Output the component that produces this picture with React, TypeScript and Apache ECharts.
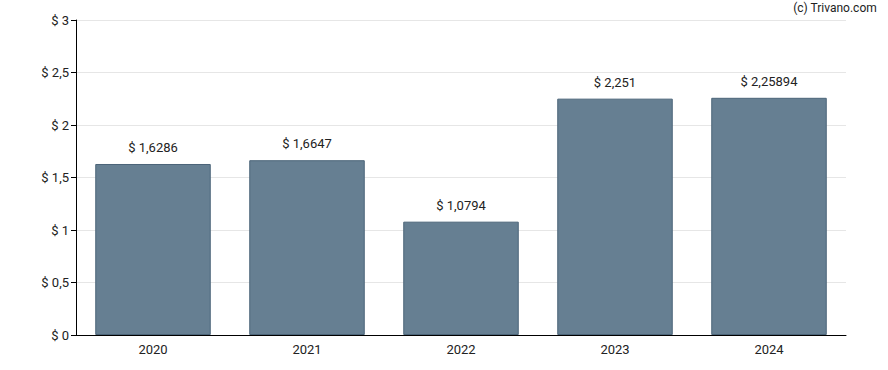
import React, { useEffect, useRef } from "react";
import * as echarts from "echarts";

const categories = ["2020", "2021", "2022", "2023", "2024"];
const values = [1.6286, 1.6647, 1.0794, 2.251, 2.25894];
const labels = ["$ 1,6286", "$ 1,6647", "$ 1,0794", "$ 2,251", "$ 2,25894"];

export default function App() {
  const ref = useRef<HTMLDivElement>(null);
  useEffect(() => {
    const chart = echarts.init(ref.current!, undefined, { renderer: "svg" });
    chart.setOption({
      animation: false,
      textStyle: { fontFamily: "Roboto" },
      grid: { left: 76, right: 42, top: 20, bottom: 35 },
      graphic: [
        {
          type: "text",
          right: 11,
          top: 2,
          style: { text: "(c) Trivano.com", font: "12px Roboto", fill: "#222" },
        },
      ],
      xAxis: {
        type: "category",
        data: categories,
        axisLine: { lineStyle: { color: "#000" } },
        axisTick: { alignWithLabel: true, length: 5, lineStyle: { color: "#000" } },
        axisLabel: { color: "#222", fontSize: 13, margin: 8 },
      },
      yAxis: {
        type: "value",
        min: 0,
        max: 3,
        interval: 0.5,
        axisLine: { show: true, lineStyle: { color: "#000" } },
        axisTick: { show: true, length: 5, lineStyle: { color: "#000" } },
        axisLabel: {
          color: "#222",
          fontSize: 13,
          margin: 7,
          formatter: (v: number) => "$ " + String(v).replace(".", ","),
        },
        splitLine: { lineStyle: { color: "#e6e6e6" } },
      },
      series: [
        {
          type: "bar",
          data: values,
          barCategoryGap: "25%",
          itemStyle: { color: "#667f92", borderColor: "#4b6478", borderWidth: 1 },
          label: {
            show: true,
            position: "top",
            distance: 10,
            color: "#222",
            fontSize: 13,
            formatter: (p: any) => labels[p.dataIndex],
          },
        },
      ],
    });
    return () => chart.dispose();
  }, []);
  return <div ref={ref} style={{ width: 888, height: 370, position: "absolute", left: 0, top: 0 }} />;
}
